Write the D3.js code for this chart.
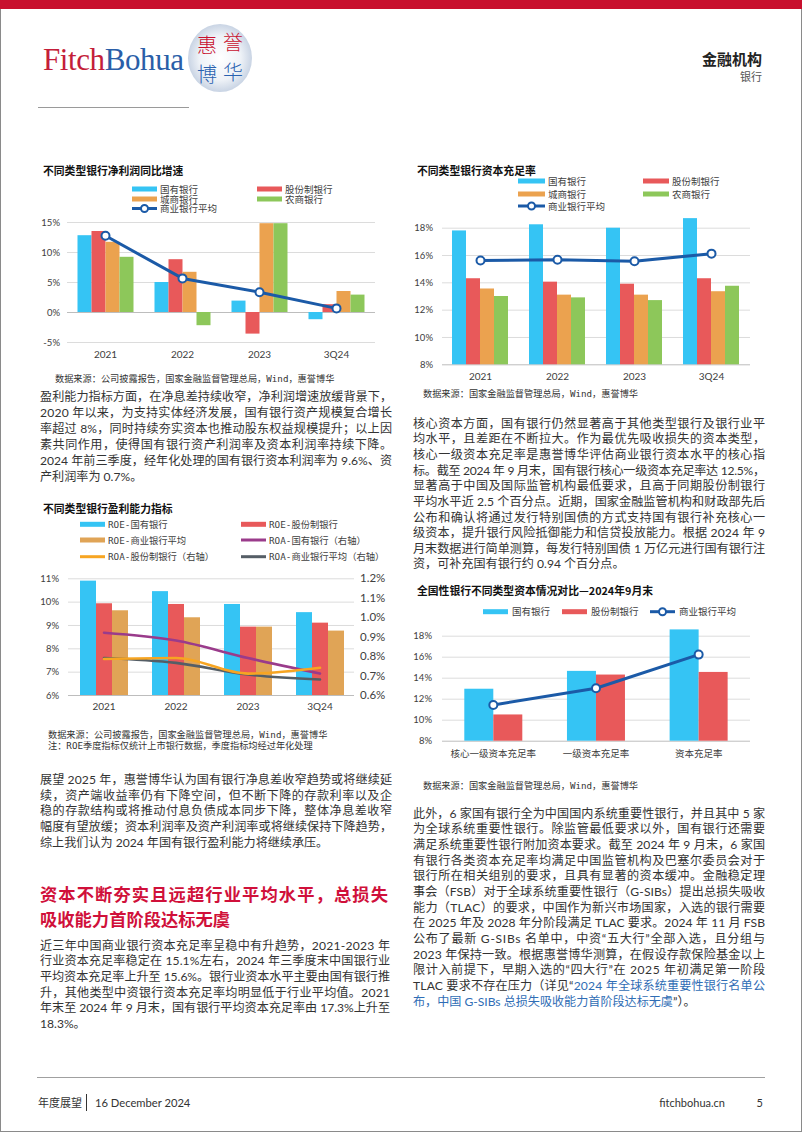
<!DOCTYPE html>
<html><head><meta charset="utf-8">
<script src="https://cdn.jsdelivr.net/npm/d3@7"></script>
<style>body{margin:0;background:#fff}svg{display:block}</style>
</head><body>
<script>
// ---------------- DATA ----------------
const years = ["2021","2022","2023","3Q24"];
const bankTypes = ["国有银行","股份制银行","城商银行","农商银行"];
const avgLabel = "商业银行平均";

// Chart 1: 净利润同比增速 (%)
const profitState = [12.8, 5.0, 1.9, -1.2];
const profitJoint = [13.5, 8.8, -3.6, 1.3];
const profitCity  = [11.7, 6.7, 14.8, 3.5];
const profitRural = [9.2, -2.2, 14.8, 2.9];
const profitAvg   = [12.7, 5.6, 3.3, 0.6];
const profitTicks = [-5, 0, 5, 10, 15];

// Chart 2: 资本充足率 (%)
const carState = [17.8, 18.25, 18.0, 18.7];
const carJoint = [14.3, 14.05, 13.9, 14.3];
const carCity  = [13.55, 13.1, 13.1, 13.35];
const carRural = [13.0, 12.9, 12.7, 13.75];
const carAvg   = [15.6, 15.65, 15.55, 16.1];
const carTicks = [8, 10, 12, 14, 16, 18];

// Chart 3: 盈利能力指标 (%)
const roeLabels = ["ROE-国有银行","ROE-股份制银行","ROE-商业银行平均"];
const roaLabels = ["ROA-国有银行（右轴）","ROA-股份制银行（右轴）","ROA-商业银行平均（右轴）"];
const roeState = [10.9, 10.45, 9.9, 9.55];
const roeJoint = [9.93, 9.9, 8.93, 9.1];
const roeAvg   = [9.63, 9.33, 8.93, 8.76];
const roaState = [0.92, 0.88, 0.79, 0.71];
const roaJoint = [0.785, 0.79, 0.71, 0.74];
const roaAvg   = [0.79, 0.765, 0.705, 0.68];
const roeTicks = [6, 7, 8, 9, 10, 11];
const roaTicks = [0.6, 0.7, 0.8, 0.9, 1.0, 1.1, 1.2];

// Chart 4: 资本情况对比 2024年9月末 (%)
const capCats  = ["核心一级资本充足率","一级资本充足率","资本充足率"];
const capState = [12.95, 14.65, 18.6];
const capJoint = [10.5, 14.3, 14.55];
const capAvg   = [11.4, 13.0, 16.2];
const capTicks = [8, 10, 12, 14, 16, 18];

// Text
const titles = ["不同类型银行净利润同比增速","不同类型银行资本充足率","不同类型银行盈利能力指标","全国性银行不同类型资本情况对比—2024年9月末"];
const src1 = "数据来源：公司披露报告，国家金融监督管理总局，Wind，惠誉博华";
const src2 = "数据来源：国家金融监督管理总局，Wind，惠誉博华";
const note3 = "注：ROE季度指标仅统计上市银行数据，季度指标均经过年化处理";

const paraL1 = [
 "盈利能力指标方面，在净息差持续收窄，净利润增速放缓背景下，",
 "2020 年以来，为支持实体经济发展，国有银行资产规模复合增长",
 "率超过 8%，同时持续夯实资本也推动股东权益规模提升；以上因",
 "素共同作用，使得国有银行资产利润率及资本利润率持续下降。",
 "2024 年前三季度，经年化处理的国有银行资本利润率为 9.6%、资",
 "产利润率为 0.7%。"];
const paraL2 = [
 "展望 2025 年，惠誉博华认为国有银行净息差收窄趋势或将继续延",
 "续，资产端收益率仍有下降空间，但不断下降的存款利率以及企",
 "稳的存款结构或将推动付息负债成本同步下降，整体净息差收窄",
 "幅度有望放缓；资本利润率及资产利润率或将继续保持下降趋势，",
 "综上我们认为 2024 年国有银行盈利能力将继续承压。"];
const heading = ["资本不断夯实且远超行业平均水平，总损失","吸收能力首阶段达标无虞"];
const paraL3 = [
 "近三年中国商业银行资本充足率呈稳中有升趋势，2021-2023 年",
 "行业资本充足率稳定在 15.1%左右，2024 年三季度末中国银行业",
 "平均资本充足率上升至 15.6%。银行业资本水平主要由国有银行推",
 "升，其他类型中资银行资本充足率均明显低于行业平均值。2021",
 "年末至 2024 年 9 月末，国有银行平均资本充足率由 17.3%上升至",
 "18.3%。"];
const paraR1 = [
 "核心资本方面，国有银行仍然显著高于其他类型银行及银行业平",
 "均水平，且差距在不断拉大。作为最优先吸收损失的资本类型，",
 "核心一级资本充足率是惠誉博华评估商业银行资本水平的核心指",
 "标。截至 2024 年 9 月末，国有银行核心一级资本充足率达 12.5%，",
 "显著高于中国及国际监管机构最低要求，且高于同期股份制银行",
 "平均水平近 2.5 个百分点。近期，国家金融监管机构和财政部先后",
 "公布和确认将通过发行特别国债的方式支持国有银行补充核心一",
 "级资本，提升银行风险抵御能力和信贷投放能力。根据 2024 年 9",
 "月末数据进行简单测算，每发行特别国债 1 万亿元进行国有银行注",
 "资，可补充国有银行约 0.94 个百分点。"];
const paraR2 = [
 "此外，6 家国有银行全为中国国内系统重要性银行，并且其中 5 家",
 "为全球系统重要性银行。除监管最低要求以外，国有银行还需要",
 "满足系统重要性银行附加资本要求。截至 2024 年 9 月末，6 家国",
 "有银行各类资本充足率均满足中国监管机构及巴塞尔委员会对于",
 "银行所在相关组别的要求，且具有显著的资本缓冲。金融稳定理",
 "事会（FSB）对于全球系统重要性银行（G-SIBs）提出总损失吸收",
 "能力（TLAC）的要求，中国作为新兴市场国家，入选的银行需要",
 "在 2025 年及 2028 年分阶段满足 TLAC 要求。2024 年 11 月 FSB",
 "公布了最新 G-SIBs 名单中，中资“五大行”全部入选，且分组与",
 "2023 年保持一致。根据惠誉博华测算，在假设存款保险基金以上",
 "限计入前提下，早期入选的“四大行”在 2025 年初满足第一阶段",
 [["TLAC 要求不存在压力（详见“","k"],["2024 年全球系统重要性银行名单公","b"]],
 [["布，中国 G-SIBs 总损失吸收能力首阶段达标无虞","b"],["”）。","k"]]];

// ---------------- SETUP ----------------
const W = 802, H = 1133;
const FONT = "Lato, 'Noto Sans CJK SC', sans-serif";
const CJK = "'Noto Sans CJK SC', sans-serif";
const MONO = "'DejaVu Sans Mono', 'Noto Sans CJK SC', monospace";
const C = {cyan:"#35c4f4", red:"#e8595a", orange:"#eba24f", green:"#8dc75a", blue:"#1b5aa7",
           tan:"#e0a456", purple:"#9a3b8b", amber:"#f7a522", gray:"#555e66", txt:"#404040"};

const svg = d3.select("body").append("svg").attr("width", W).attr("height", H);
svg.append("rect").attr("x",0.5).attr("y",0.5).attr("width",W-1).attr("height",H-2)
  .attr("fill","#fff").attr("stroke","#8a8a8a");
svg.append("rect").attr("x",0).attr("y",0).attr("width",W).attr("height",9).attr("fill","#c8102e");

// Logo
const defs = svg.append("defs");
const rg = defs.append("radialGradient").attr("id","lg");
rg.append("stop").attr("offset","0%").attr("stop-color","#ffffff");
rg.append("stop").attr("offset","65%").attr("stop-color","#eef2f7");
rg.append("stop").attr("offset","100%").attr("stop-color","#c9d4e4");
const logo = svg.append("text").attr("x",43).attr("y",70).attr("textLength",141)
  .style("font-family","'Liberation Serif','DejaVu Serif',serif").style("font-size","31px");
logo.append("tspan").attr("fill","#c41e3a").text("Fitch");
logo.append("tspan").attr("fill","#2a5ea8").text("Bohua");
svg.append("ellipse").attr("cx",220).attr("cy",58).attr("rx",32).attr("ry",34).attr("fill","url(#lg)");
[["惠",207,44,"#c8102e"],["誉",233,41,"#c8102e"],["博",207,73,"#2a62b0"],["华",233,71,"#2a62b0"]]
 .forEach(([t,x,y,c])=>svg.append("text").attr("x",x).attr("y",y).attr("text-anchor","middle")
   .attr("dominant-baseline","central").attr("fill",c).style("font-family",CJK)
   .style("font-size","20px").style("font-weight",300).text(t));
svg.append("line").attr("x1",38).attr("x2",189).attr("y1",107.5).attr("y2",107.5).attr("stroke","#9a9a9a");
svg.append("text").attr("x",762).attr("y",58).attr("text-anchor","end").attr("dominant-baseline","central")
  .attr("fill","#222").style("font-family",CJK).style("font-size","15px").style("font-weight",700).text("金融机构");
svg.append("text").attr("x",762).attr("y",76).attr("text-anchor","end").attr("dominant-baseline","central")
  .attr("fill","#555").style("font-family",CJK).style("font-size","11px").text("银行");

// ---------------- HELPERS ----------------
function txt(x, y, s, o = {}) {
  return svg.append("text").attr("x",x).attr("y",y).attr("dominant-baseline","central")
    .attr("text-anchor", o.anchor || "start").attr("fill", o.fill || C.txt)
    .style("font-family", o.font || FONT).style("font-size", (o.size || 9.5) + "px")
    .style("font-weight", o.weight || 400).text(s);
}
function leftAxis(y, ticks, x0, x1, fmt, pad, fs, zeroVal) {
  const ax = svg.append("g").attr("transform",`translate(${x0},0)`)
    .call(d3.axisLeft(y).tickValues(ticks).tickSize(-(x1-x0)).tickPadding(pad).tickFormat(fmt));
  ax.select(".domain").remove();
  ax.selectAll(".tick line").attr("stroke", d => d === zeroVal ? "#bdbdbd" : "#dcdcdc");
  ax.selectAll("text").attr("fill",C.txt).style("font-family",FONT).style("font-size",fs+"px");
  return ax;
}
function catAxis(x, yPos, fs) {
  const ax = svg.append("g").attr("transform",`translate(0,${yPos})`)
    .call(d3.axisBottom(x).tickSize(0).tickPadding(0));
  ax.select(".domain").remove();
  ax.selectAll("text").attr("y",0).attr("dy","0.35em").attr("fill",C.txt)
    .style("font-family",FONT).style("font-size",fs+"px");
}
function drawBars(x, inner, y, cats, series, base) {
  series.forEach((s, i) => {
    svg.append("g").selectAll("rect").data(s.vals).join("rect")
      .attr("x", (d, j) => x(cats[j]) + inner(i))
      .attr("width", inner.bandwidth())
      .attr("y", d => y(Math.max(d, base)))
      .attr("height", d => Math.abs(y(d) - y(base)))
      .attr("fill", s.color);
  });
}
function drawLine(x, y, cats, vals, color, width, markers, curve) {
  const ln = d3.line().x((d, i) => x(cats[i]) + x.bandwidth()/2).y(d => y(d));
  if (curve) ln.curve(curve);
  svg.append("path").datum(vals).attr("d", ln).attr("fill","none")
    .attr("stroke", color).attr("stroke-width", width).attr("stroke-linejoin","round").attr("stroke-linecap","round");
  if (markers) {
    svg.append("g").selectAll("circle").data(vals).join("circle")
      .attr("cx", (d, i) => x(cats[i]) + x.bandwidth()/2).attr("cy", d => y(d))
      .attr("r", 4).attr("fill","#fff").attr("stroke", color).attr("stroke-width", 2);
  }
}
function legend(x, y, type, color, label, o = {}) {
  const w = o.w || 25, gap = o.gap || 3;
  if (type === "rect") svg.append("rect").attr("x",x).attr("y",y-2.5).attr("width",w).attr("height",5).attr("fill",color);
  else {
    svg.append("line").attr("x1",x).attr("x2",x+w).attr("y1",y).attr("y2",y).attr("stroke",color).attr("stroke-width",3);
    if (type === "marker") svg.append("circle").attr("cx",x+w/2).attr("cy",y).attr("r",3.5)
      .attr("fill","#fff").attr("stroke",color).attr("stroke-width",2);
  }
  txt(x + w + gap, y, label, {size: o.size || 9.5, font: o.font || FONT});
}
const pct = d => d + "%";

// ---------------- CHART 1 ----------------
{
  const x = d3.scaleBand().domain(years).range([67, 375]);
  const inner = d3.scaleBand().domain(d3.range(4)).range([10.5, 66.5]);
  const y = d3.scaleLinear().domain([-5, 15]).range([342, 222]);
  txt(43, 170, titles[0], {size:10.8, weight:700, fill:"#111", font:CJK});
  legend(132, 189, "rect", C.cyan, bankTypes[0]);
  legend(257, 189, "rect", C.red, bankTypes[1]);
  legend(132, 199, "rect", C.orange, bankTypes[2]);
  legend(257, 199, "rect", C.green, bankTypes[3]);
  legend(132, 208.5, "marker", C.blue, avgLabel);
  leftAxis(y, profitTicks, 67, 375, pct, 7, 9.5, 0);
  drawBars(x, inner, y, years, [
    {vals: profitState, color: C.cyan}, {vals: profitJoint, color: C.red},
    {vals: profitCity, color: C.orange}, {vals: profitRural, color: C.green}], 0);
  drawLine(x, y, years, profitAvg, C.blue, 3, true);
  catAxis(x, 354, 10);
  txt(55, 378, src1, {size:9.2, font:MONO, fill:"#333"});
}

// ---------------- CHART 2 ----------------
{
  const x = d3.scaleBand().domain(years).range([442, 750]);
  const inner = d3.scaleBand().domain(d3.range(4)).range([10, 66]);
  const y = d3.scaleLinear().domain([8, 18]).range([364.3, 227.7]);
  txt(417, 170, titles[1], {size:10.8, weight:700, fill:"#111", font:CJK});
  legend(518, 181, "rect", C.cyan, bankTypes[0], {w:27});
  legend(643, 181, "rect", C.red, bankTypes[1], {w:26});
  legend(518, 194, "rect", C.orange, bankTypes[2], {w:27});
  legend(643, 194, "rect", C.green, bankTypes[3], {w:26});
  legend(518, 206, "marker", C.blue, avgLabel, {w:27});
  leftAxis(y, carTicks, 442, 750, pct, 9, 9.5, 8);
  drawBars(x, inner, y, years, [
    {vals: carState, color: C.cyan}, {vals: carJoint, color: C.red},
    {vals: carCity, color: C.orange}, {vals: carRural, color: C.green}], 8);
  drawLine(x, y, years, carAvg, C.blue, 3, true);
  catAxis(x, 376.7, 10);
  txt(423, 393, src2, {size:9.2, font:MONO, fill:"#333"});
}

// ---------------- CHART 3 ----------------
{
  const x = d3.scaleBand().domain(years).range([68, 356]);
  const inner = d3.scaleBand().domain(d3.range(3)).range([12, 60]);
  const y = d3.scaleLinear().domain([6, 11]).range([695, 578.3]);
  const yR = d3.scaleLinear().domain([0.6, 1.2]).range([695, 578.3]);
  txt(43, 508, titles[2], {size:10.8, weight:700, fill:"#111", font:CJK});
  const lo = {font: MONO, size: 9.3};
  legend(80, 524.3, "rect", C.cyan, roeLabels[0], lo);
  legend(241, 524.3, "rect", C.red, roeLabels[1], lo);
  legend(80, 540, "rect", C.tan, roeLabels[2], lo);
  legend(241, 540, "line", C.purple, roaLabels[0], lo);
  legend(80, 556.7, "line", C.amber, roaLabels[1], lo);
  legend(241, 556.7, "line", C.gray, roaLabels[2], lo);
  leftAxis(y, roeTicks, 68, 354, pct, 9, 9.5, 6);
  const axR = svg.append("g").attr("transform","translate(356,0)")
    .call(d3.axisRight(yR).tickValues(roaTicks).tickSize(0).tickPadding(4).tickFormat(d => d.toFixed(1) + "%"));
  axR.select(".domain").remove();
  axR.selectAll("text").attr("fill",C.txt).style("font-family",FONT).style("font-size","11.5px");
  drawBars(x, inner, y, years, [
    {vals: roeState, color: C.cyan}, {vals: roeJoint, color: C.red}, {vals: roeAvg, color: C.tan}], 6);
  drawLine(x, yR, years, roaState, C.purple, 2.6, false, d3.curveMonotoneX);
  drawLine(x, yR, years, roaAvg, C.gray, 2.6, false, d3.curveMonotoneX);
  drawLine(x, yR, years, roaJoint, C.amber, 2.6, false, d3.curveMonotoneX);
  catAxis(x, 706.7, 10);
  txt(48, 734, src1, {size:9.2, font:MONO, fill:"#333"});
  txt(48, 745.5, note3, {size:9.2, font:MONO, fill:"#333"});
}

// ---------------- CHART 4 ----------------
{
  const x = d3.scaleBand().domain(capCats).range([442, 750]);
  const inner = d3.scaleBand().domain(d3.range(2)).range([22.3, 80.3]);
  const y = d3.scaleLinear().domain([8, 18]).range([740.7, 635.7]);
  txt(417, 590, titles[3], {size:10.8, weight:700, fill:"#111", font:CJK});
  legend(483, 611.7, "rect", C.cyan, bankTypes[0], {gap:4});
  legend(562, 611.7, "rect", C.red, bankTypes[1], {gap:4});
  legend(650, 611.7, "marker", C.blue, avgLabel, {gap:4});
  leftAxis(y, capTicks, 442, 750, pct, 10, 9.5, 8);
  drawBars(x, inner, y, capCats, [
    {vals: capState, color: C.cyan}, {vals: capJoint, color: C.red}], 8);
  drawLine(x, y, capCats, capAvg, C.blue, 3, true);
  catAxis(x, 753.3, 9.5);
  txt(423, 785, src2, {size:9.2, font:MONO, fill:"#333"});
}

// ---------------- BODY TEXT ----------------
function para(lines, x, y0, step, width, size) {
  lines.forEach((ln, i) => {
    const t = svg.append("text").attr("x", x).attr("y", y0 + i*step).attr("dominant-baseline","central")
      .attr("fill","#333").style("font-family",FONT).style("font-size",size+"px");
    if (typeof ln === "string") t.text(ln);
    else ln.forEach(([s, c]) => t.append("tspan").attr("fill", c === "b" ? "#2f6db5" : "#333").text(s));
    if (i < lines.length - 1) t.attr("textLength", width).attr("lengthAdjust","spacing");
  });
}
para(paraL1, 40, 396.3, 16.0, 352, 12.1);
para(paraR1, 413, 423.3, 15.63, 352, 12.1);
para(paraL2, 40, 779.3, 15.75, 352, 12.1);
heading.forEach((h, i) => {
  const t = svg.append("text").attr("x",40).attr("y", 893 + i*25.3).attr("dominant-baseline","central")
    .attr("fill","#d0103a").style("font-family",CJK).style("font-size","17.3px").style("font-weight",700).text(h);
  if (i === 0) t.attr("textLength", 348).attr("lengthAdjust","spacing");
});
para(paraL3, 40, 945, 15.67, 350, 12.1);
para(paraR2, 413, 813.3, 15.65, 352, 12.1);

// ---------------- FOOTER ----------------
svg.append("line").attr("x1",37).attr("x2",765).attr("y1",1077.5).attr("y2",1077.5).attr("stroke","#a0a0a0");
txt(38, 1102, "年度展望", {size:11, font:CJK, fill:"#333"});
svg.append("line").attr("x1",86.5).attr("x2",86.5).attr("y1",1094).attr("y2",1111).attr("stroke","#333");
txt(95, 1102, "16 December 2024", {size:11.2, fill:"#333"});
txt(725, 1102, "fitchbohua.cn", {size:11, fill:"#333", anchor:"end"});
txt(763, 1102, "5", {size:11, fill:"#333", anchor:"end"});
</script>
</body></html>
